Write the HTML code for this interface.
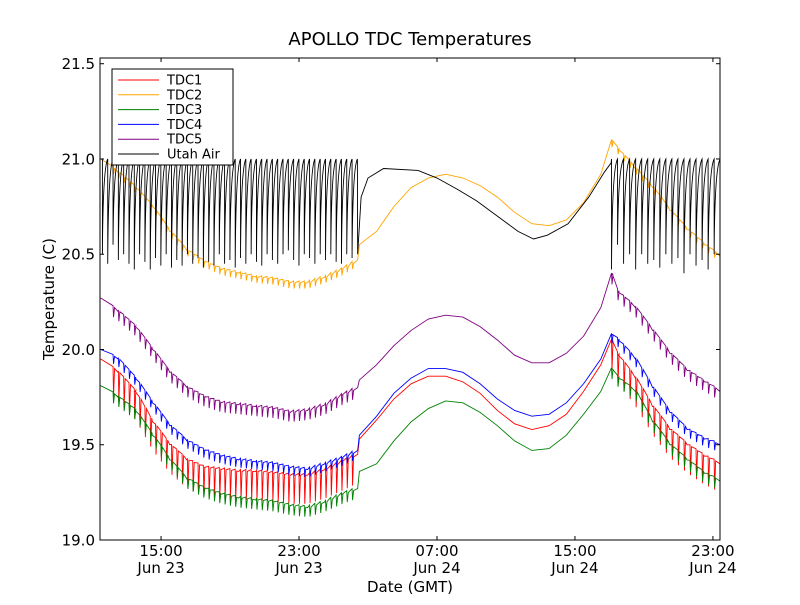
<!DOCTYPE html>
<html><head><meta charset="utf-8"><style>
body{margin:0;background:#fff}
svg text{font-family:"DejaVu Sans","Liberation Sans",sans-serif}
</style></head><body>
<svg id="c" width="800" height="600" xmlns="http://www.w3.org/2000/svg">
<rect width="800" height="600" fill="#fff"/>
<text x="410" y="45" font-size="18" text-anchor="middle">APOLLO TDC Temperatures</text>
<g id="plot"></g>
<rect x="100" y="58" width="620" height="482" fill="none" stroke="#000"/>
<g id="axes"></g>
<text x="410" y="592" font-size="15" text-anchor="middle">Date (GMT)</text>
<text transform="translate(54,299) rotate(-90)" font-size="15" text-anchor="middle">Temperature (C)</text>
<g id="legend"></g>
</svg>
<script>
// hours since Jun 23 00:00
const xTickHours=[15,23,31,39,47];
const xTickLabels=[["15:00","Jun 23"],["23:00","Jun 23"],["07:00","Jun 24"],["15:00","Jun 24"],["23:00","Jun 24"]];
const yTicks=[19.0,19.5,20.0,20.5,21.0,21.5];
const seriesNames=["TDC1","TDC2","TDC3","TDC4","TDC5","Utah Air"];
const seriesColors=["red","orange","green","blue","purple","black"];
const tdcTimes=[11.5,12.5,13.5,14.5,15.5,16.5,17.5,18.5,19.5,20.5,21.5,22.5,23.5,24.5,25.5,26.4,26.5,27.5,28.5,29.5,30.5,31.5,32.5,33.5,34.5,35.5,36.5,37.5,38.5,39.5,40.5,41.15,41.5,42.5,43.5,44.5,45.5,46.5,47.4];
const tdc1=[19.95,19.88,19.78,19.62,19.5,19.42,19.38,19.37,19.36,19.36,19.35,19.34,19.34,19.37,19.41,19.45,19.53,19.63,19.74,19.82,19.86,19.86,19.83,19.77,19.68,19.61,19.58,19.6,19.66,19.78,19.92,20.05,19.97,19.85,19.7,19.58,19.5,19.44,19.4];
const tdc2=[21.0,20.93,20.85,20.75,20.62,20.52,20.46,20.42,20.4,20.38,20.37,20.35,20.35,20.38,20.42,20.47,20.55,20.62,20.75,20.85,20.9,20.92,20.9,20.86,20.8,20.72,20.66,20.65,20.68,20.77,20.92,21.1,21.05,20.95,20.85,20.73,20.63,20.55,20.49];
const tdc3=[19.81,19.75,19.68,19.55,19.42,19.32,19.27,19.24,19.22,19.21,19.2,19.18,19.17,19.2,19.24,19.27,19.36,19.4,19.52,19.62,19.69,19.73,19.72,19.67,19.6,19.52,19.47,19.48,19.55,19.66,19.78,19.9,19.85,19.78,19.62,19.5,19.42,19.35,19.31];
const tdc4=[20.0,19.95,19.85,19.72,19.6,19.52,19.47,19.44,19.42,19.41,19.4,19.38,19.37,19.4,19.43,19.47,19.55,19.65,19.77,19.85,19.9,19.9,19.88,19.82,19.74,19.68,19.65,19.66,19.72,19.82,19.95,20.08,20.05,19.95,19.8,19.67,19.58,19.53,19.5];
const tdc5=[20.27,20.2,20.12,20.0,19.88,19.8,19.75,19.72,19.71,19.7,19.69,19.67,19.68,19.71,19.76,19.8,19.84,19.92,20.02,20.1,20.16,20.18,20.17,20.12,20.05,19.97,19.93,19.93,19.98,20.07,20.22,20.4,20.3,20.22,20.1,19.98,19.89,19.83,19.78];
const dipDepths=[0.15,0.03,0.05,0.04,0.05];
// Utah Air cycles
const utahPeak=21.0;
const cycle1Start=11.6, cycle1Period=0.308;
const cycle1Mins=[20.5,20.45,20.55,20.47,20.5,20.45,20.42,20.5,20.46,20.42,20.48,20.44,20.5,20.43,20.47,20.44,20.5,20.45,20.48,20.43,20.46,20.44,20.5,20.45,20.47,20.43,20.48,20.45,20.5,20.46,20.44,20.5,20.47,20.45,20.5,20.52,20.47,20.44,20.5,20.48,20.45,20.5,20.47,20.5,20.46,20.45,20.5,20.48];
const utahMidT=[26.4,26.6,27.0,27.9,29.9,31.0,32.2,33.3,34.5,35.7,36.6,37.4,38.6,39.8,40.7,41.1];
const utahMidV=[20.5,20.8,20.9,20.95,20.94,20.9,20.84,20.78,20.7,20.62,20.58,20.6,20.66,20.8,20.93,20.98];
const cycle2Start=41.12, cycle2Period=0.35;
const cycle2Mins=[20.42,20.55,20.45,20.5,20.42,20.5,20.45,20.47,20.43,20.5,20.45,20.48,20.4,20.5,20.44,20.47,20.42,20.5];

const X0=100,X1=720,Y0=540,Y1=58,T0=11.46,T1=47.41,V0=19.0,V1=21.53;
const sx=t=>X0+(t-T0)/(T1-T0)*(X1-X0);
const sy=v=>Y0-(v-V0)/(V1-V0)*(Y0-Y1);
const NS="http://www.w3.org/2000/svg";
const plot=document.getElementById('plot'),axes=document.getElementById('axes'),legend=document.getElementById('legend');
function mk(tag,attrs,parent){const e=document.createElementNS(NS,tag);for(const k in attrs)e.setAttribute(k,attrs[k]);parent.appendChild(e);return e;}

let d="";
const cyc=(start,per,mins)=>{for(let i=0;i<mins.length;i++){const t=start+i*per,tn=t+per;
 d+=(d?" L":"M")+sx(t)+","+sy(utahPeak)+" L"+sx(t)+","+sy(mins[i])+" Q"+(sx(t)+0.5)+","+sy(utahPeak-0.05)+" "+sx(tn)+","+sy(utahPeak);}};
cyc(cycle1Start,cycle1Period,cycle1Mins);
for(let i=0;i<utahMidT.length;i++)d+=" L"+sx(utahMidT[i])+","+sy(utahMidV[i]);
cyc(cycle2Start,cycle2Period,cycle2Mins);

const tdcs=[tdc1,tdc2,tdc3,tdc4,tdc5];
const interp=(arr,t)=>{for(let i=0;i<tdcTimes.length-1;i++){if(t<=tdcTimes[i+1]){const f=(t-tdcTimes[i])/(tdcTimes[i+1]-tdcTimes[i]);return arr[i]+f*(arr[i+1]-arr[i]);}}return arr[arr.length-1];};
tdcs.forEach((arr,si)=>{
 let p="";
 const pts=[];
 tdcTimes.forEach((t,i)=>pts.push([t,arr[i],0]));
 cycle1Mins.forEach((m,i)=>{const t=cycle1Start+i*cycle1Period;if(t>12.2)pts.push([t,interp(arr,t),1]);});
 cycle2Mins.forEach((m,i)=>{const t=cycle2Start+i*cycle2Period;pts.push([t,interp(arr,t),1]);});
 pts.sort((a,b)=>a[0]-b[0]);
 pts.forEach(q=>{
  if(q[2]){p+=" L"+sx(q[0])+","+sy(q[1]+0.01)+" L"+(sx(q[0])+0.5)+","+sy(q[1]-dipDepths[si])+" L"+(sx(q[0])+1.5)+","+sy(q[1]);}
  else p+=(p?" L":"M")+sx(q[0])+","+sy(q[1]);
 });
 const el=mk('path',{d:p,fill:"none",stroke:seriesColors[si],"stroke-width":0.9},plot);
 
 
});
const ua=mk('path',{d:d,fill:"none",stroke:"black","stroke-width":0.9},plot);



xTickHours.forEach((h,i)=>{const x=sx(h);
 mk('line',{x1:x,x2:x,y1:540,y2:536,stroke:"#000"},axes);mk('line',{x1:x,x2:x,y1:58,y2:62,stroke:"#000"},axes);
 const t=mk('text',{x:x,y:556,"font-size":15,"text-anchor":"middle"},axes);t.textContent=xTickLabels[i][0];
 
 
 const t2=mk('text',{x:x,y:573,"font-size":15,"text-anchor":"middle"},axes);t2.textContent=xTickLabels[i][1];
 
 
});
yTicks.forEach(v=>{const y=sy(v);
 mk('line',{x1:100,x2:104,y1:y,y2:y,stroke:"#000"},axes);mk('line',{x1:720,x2:716,y1:y,y2:y,stroke:"#000"},axes);
 const t=mk('text',{x:95,y:y+5.5,"font-size":15,"text-anchor":"end"},axes);t.textContent=v.toFixed(1);
 
 
});
const lb=mk('rect',{x:112,y:69,width:121,height:96,fill:"#fff",stroke:"#000"},legend);


seriesNames.forEach((n,i)=>{const y=80+i*14.8;
 const g=mk('g',{},legend);
 
 
 mk('line',{x1:118,x2:159,y1:y,y2:y,stroke:seriesColors[i]},g);
 const t=mk('text',{x:167,y:y+4.5,"font-size":13},g);t.textContent=n;
});
</script>
</body></html>
